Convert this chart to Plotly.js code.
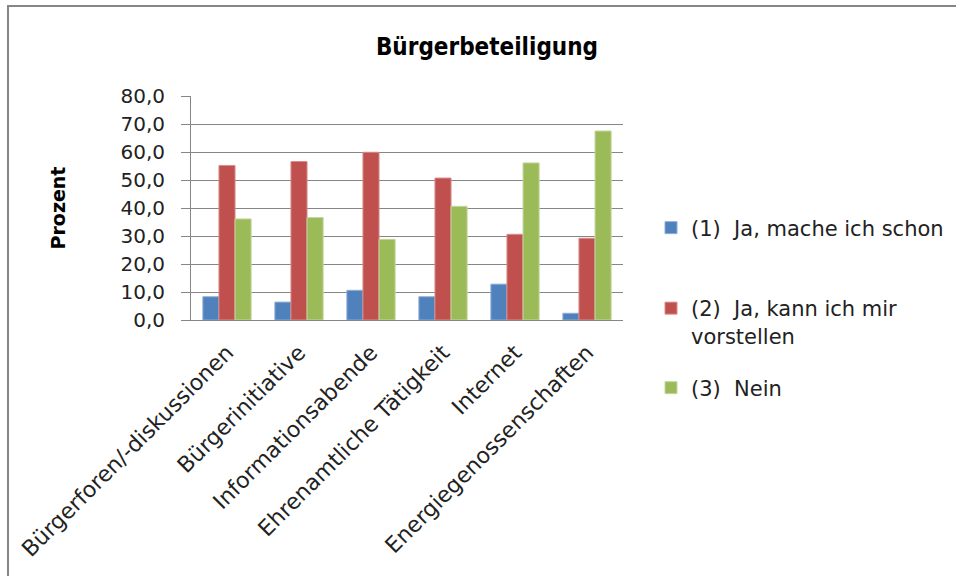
<!DOCTYPE html>
<html>
<head>
<meta charset="utf-8">
<script src="https://cdn.plot.ly/plotly-3.0.1.min.js"></script>
<style>
  html, body { margin: 0; padding: 0; background: #ffffff; }
  #wrap { position: relative; width: 956px; height: 576px; overflow: hidden; }
  #chart { position: absolute; left: 0; top: 0; width: 956px; height: 576px; }
  #frame { position: absolute; left: 7px; top: 5px; width: 960px; height: 600px;
           border-top: 2px solid #868686; border-left: 2px solid #868686; pointer-events: none; }
</style>
</head>
<body>
<div id="wrap">
  <div id="chart"></div>
  <div id="frame"></div>
</div>
<script>
const categories = [
  "Bürgerforen/-diskussionen",
  "Bürgerinitiative",
  "Informationsabende",
  "Ehrenamtliche Tätigkeit",
  "Internet",
  "Energiegenossenschaften"
];
const seriesNames = [
  "(1)  Ja, mache ich schon",
  "(2)  Ja, kann ich mir<br>vorstellen",
  "(3)  Nein"
];
const valuesJaSchon = [8.3, 6.4, 10.6, 8.3, 12.8, 2.4];
const valuesVorstellen = [55.2, 56.6, 59.9, 50.7, 30.6, 29.2];
const valuesNein = [36.1, 36.6, 28.8, 40.6, 56.1, 67.5];
const yTicks = [0, 10, 20, 30, 40, 50, 60, 70, 80];

const colors = ["#4F81BD", "#C0504D", "#9BBB59"];
const edgeColors = ["#8EADD4", "#D88E8C", "#C3D79E"];
const allValues = [valuesJaSchon, valuesVorstellen, valuesNein];
const legendIds = ["legend", "legend2", "legend3"];

const FONT = "'DejaVu Sans', 'Open Sans', sans-serif";

const traces = allValues.map((vals, i) => ({
  type: "bar",
  x: categories,
  y: vals,
  name: seriesNames[i],
  legend: legendIds[i],
  marker: { color: colors[i], line: { color: edgeColors[i], width: 1 } },
  hoverinfo: "x+y+name"
}));

const legendBase = {
  xref: "container", yref: "container",
  xanchor: "left", yanchor: "middle",
  x: 651 / 956,
  bgcolor: "rgba(0,0,0,0)",
  borderwidth: 0,
  valign: "top",
  font: { family: FONT, size: 21, color: "#222222" }
};

const layout = {
  width: 956,
  height: 576,
  paper_bgcolor: "#ffffff",
  plot_bgcolor: "#ffffff",
  separators: ",.",
  margin: { l: 191, r: 333, t: 96, b: 256, pad: 0 },
  barmode: "group",
  bargap: 0.33,
  bargroupgap: 0,
  title: {
    text: "<b>Bürgerbeteiligung</b>",
    xref: "container", yref: "container",
    x: 487 / 956, xanchor: "center",
    y: 1 - 47 / 576, yanchor: "middle",
    font: { family: "'DejaVu Sans Condensed', 'DejaVu Sans', sans-serif", size: 24, color: "#000000" }
  },
  xaxis: {
    type: "category",
    tickangle: -45,
    showgrid: false,
    showline: true,
    linecolor: "#868686",
    linewidth: 1,
    ticks: "outside",
    ticklen: 10,
    tickcolor: "rgba(0,0,0,0)",
    tickfont: { family: FONT, size: 22, color: "#222222" },
    fixedrange: true
  },
  yaxis: {
    range: [0, 80],
    tickvals: yTicks,
    tickformat: ".1f",
    showgrid: true,
    gridcolor: "#868686",
    gridwidth: 1,
    showline: true,
    linecolor: "#868686",
    linewidth: 1,
    ticks: "outside",
    ticklen: 9,
    tickcolor: "#868686",
    ticklabelstandoff: 12,
    zeroline: false,
    tickfont: { family: FONT, size: 20, color: "#222222" },
    title: {
      text: "<b>Prozent</b>",
      standoff: 49,
      font: { family: FONT, size: 19, color: "#000000" }
    },
    fixedrange: true
  },
  legend: Object.assign({}, legendBase, { y: 1 - 228 / 576 }),
  legend2: Object.assign({}, legendBase, { y: 1 - 322 / 576 }),
  legend3: Object.assign({}, legendBase, { y: 1 - 388 / 576 }),
  showlegend: true
};

Plotly.newPlot("chart", traces, layout, { displayModeBar: false });
</script>
</body>
</html>
